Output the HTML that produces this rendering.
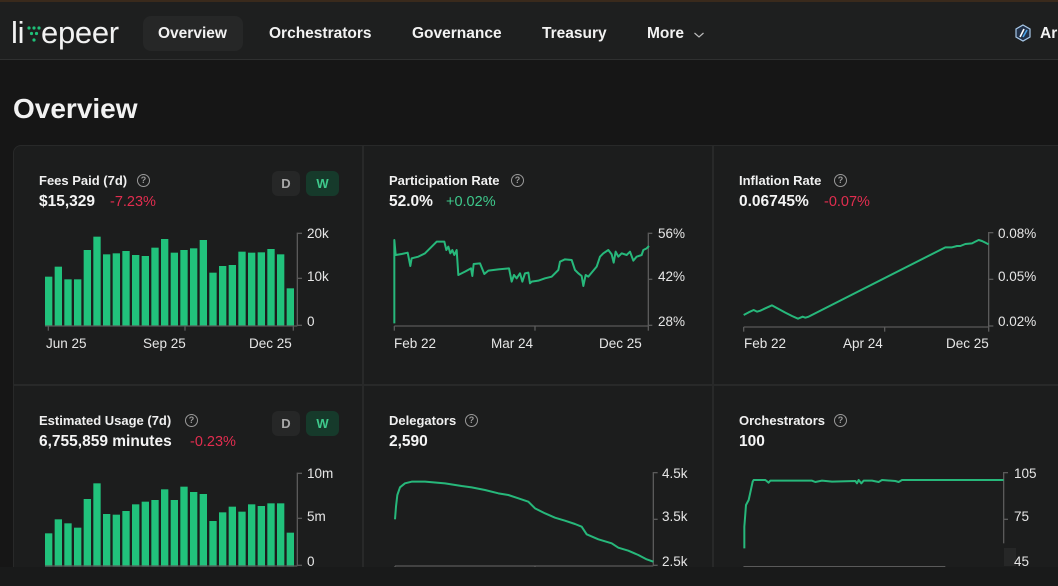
<!DOCTYPE html>
<html><head><meta charset="utf-8">
<style>
html,body{margin:0;padding:0;width:1058px;height:586px;overflow:hidden;background:#161616;font-family:"Liberation Sans",sans-serif;color:#ededed;}
.a{position:absolute;white-space:nowrap;}
.hdr{position:absolute;left:0;top:0;width:1058px;height:60px;background:#1e1f1f;border-top:2px solid #3a2a1c;box-sizing:border-box;border-bottom:1px solid #2f3030;}
.nav{font-weight:bold;font-size:15.5px;color:#f2f2f2;line-height:20px;top:24px;}
.pill{position:absolute;left:143px;top:16px;width:100px;height:35px;background:#262727;border-radius:8px;}
.card{position:absolute;background:#1c1d1d;}
.t{font-weight:bold;font-size:13px;line-height:16px;color:#f0f0f0;}
.v{font-weight:bold;font-size:15.5px;line-height:18px;color:#f4f4f4;}
.red{font-size:14.5px;line-height:18px;color:#e12d4f;}
.grn{font-size:14.5px;line-height:18px;color:#3ec98c;}
.q{position:absolute;width:11px;height:11px;border:1.3px solid #9a9a9a;border-radius:50%;font-size:9px;line-height:11px;text-align:center;color:#9a9a9a;font-weight:bold;}
.btn{position:absolute;height:25px;border-radius:6px;font-weight:bold;font-size:13px;line-height:25px;text-align:center;}
.lbl{font-size:13.5px;fill:#e6e6e6;font-family:"Liberation Sans",sans-serif;}
</style></head><body>

<div class="hdr"></div>
<!-- logo -->
<div class="a" style="left:11px;top:15px;font-size:31px;line-height:36px;color:#f2f2f2;letter-spacing:-0.3px;">li</div>
<svg class="a" style="left:27px;top:23px" width="14" height="22">
<g fill="#1fbf78"><circle cx="2" cy="5" r="1.6"/><circle cx="7" cy="5" r="1.6"/><circle cx="12" cy="5" r="1.6"/><circle cx="4.5" cy="10.5" r="1.6"/><circle cx="9.5" cy="10.5" r="1.6"/><circle cx="7" cy="17" r="1.6"/></g></svg>
<div class="a" style="left:41px;top:15px;font-size:31px;line-height:36px;color:#f2f2f2;letter-spacing:-0.3px;">epeer</div>

<div class="pill"></div>
<div class="a nav" style="left:158px;">Overview</div>
<div class="a nav" style="left:269px;">Orchestrators</div>
<div class="a nav" style="left:412px;">Governance</div>
<div class="a nav" style="left:542px;">Treasury</div>
<div class="a nav" style="left:647px;">More</div>
<svg class="a" style="left:693px;top:30px" width="12" height="10"><polyline points="1.5,3 6,7 10.5,3" fill="none" stroke="#bbb" stroke-width="1.2"/></svg>
<svg class="a" style="left:1014px;top:24px" width="18" height="18"><polygon points="9,1 16,5 16,13 9,17 2,13 2,5" fill="#22324a" stroke="#a8c8e8" stroke-width="1.2"/><line x1="6" y1="13" x2="10" y2="5" stroke="#fff" stroke-width="1.6"/><line x1="9" y1="13" x2="13" y2="6" stroke="#4aa3ea" stroke-width="1.6"/></svg>
<div class="a nav" style="left:1040px;">Arbitrum</div>

<div class="a" style="left:13px;top:93px;font-size:28px;font-weight:bold;line-height:32px;color:#f2f2f2;">Overview</div>

<!-- cards grid -->
<div class="a" style="left:13px;top:145px;width:1045px;height:430px;background:#282929;border-top-left-radius:8px;"></div>
<div class="card" style="left:14px;top:146px;width:348px;height:238px;border-top-left-radius:7px;"></div>
<div class="card" style="left:364px;top:146px;width:348px;height:238px;"></div>
<div class="card" style="left:714px;top:146px;width:344px;height:238px;"></div>
<div class="card" style="left:14px;top:386px;width:348px;height:200px;"></div>
<div class="card" style="left:364px;top:386px;width:348px;height:200px;"></div>
<div class="card" style="left:714px;top:386px;width:344px;height:200px;"></div>

<!-- card texts row1 -->
<div class="a t" style="left:39px;top:173px;">Fees Paid (7d)</div><div class="q" style="left:137px;top:174px;">?</div>
<div class="a v" style="left:39px;top:193px;">$15,329</div><div class="a red" style="left:110px;top:193px;">-7.23%</div>
<div class="btn" style="left:272px;top:171px;width:28px;background:#262727;color:#a8a8a8;">D</div>
<div class="btn" style="left:306px;top:171px;width:33px;background:#163a2b;color:#3ec98c;">W</div>

<div class="a t" style="left:389px;top:173px;">Participation Rate</div><div class="q" style="left:511px;top:174px;">?</div>
<div class="a v" style="left:389px;top:193px;">52.0%</div><div class="a grn" style="left:446px;top:193px;">+0.02%</div>

<div class="a t" style="left:739px;top:173px;">Inflation Rate</div><div class="q" style="left:834px;top:174px;">?</div>
<div class="a v" style="left:739px;top:193px;">0.06745%</div><div class="a red" style="left:824px;top:193px;">-0.07%</div>

<!-- row2 -->
<div class="a t" style="left:39px;top:413px;">Estimated Usage (7d)</div><div class="q" style="left:185px;top:414px;">?</div>
<div class="a v" style="left:39px;top:433px;">6,755,859 minutes</div><div class="a red" style="left:190px;top:433px;">-0.23%</div>
<div class="btn" style="left:272px;top:411px;width:28px;background:#262727;color:#a8a8a8;">D</div>
<div class="btn" style="left:306px;top:411px;width:33px;background:#163a2b;color:#3ec98c;">W</div>

<div class="a t" style="left:389px;top:413px;">Delegators</div><div class="q" style="left:465px;top:414px;">?</div>
<div class="a v" style="left:389px;top:433px;">2,590</div>

<div class="a t" style="left:739px;top:413px;">Orchestrators</div><div class="q" style="left:834px;top:414px;">?</div>
<div class="a v" style="left:739px;top:433px;">100</div>

<svg class="a" style="left:0;top:0" width="1058" height="586">
<!-- chart 1 bars -->
<g transform="translate(10,140) scale(0.33333)">
<g fill="#21c27c">
<rect x="105" y="410" width="22" height="147"/><rect x="134" y="380" width="22" height="177"/><rect x="163" y="418" width="22" height="139"/><rect x="192" y="418" width="22" height="139"/><rect x="221" y="330" width="22" height="227"/><rect x="250" y="290" width="22" height="267"/><rect x="279" y="343" width="22" height="214"/><rect x="308" y="340" width="22" height="217"/><rect x="337" y="333" width="22" height="224"/><rect x="366" y="345" width="22" height="212"/><rect x="395" y="348" width="22" height="209"/><rect x="424" y="323" width="22" height="234"/><rect x="453" y="297" width="22" height="260"/><rect x="482" y="338" width="22" height="219"/><rect x="511" y="330" width="22" height="227"/><rect x="540" y="325" width="22" height="232"/><rect x="569" y="300" width="22" height="257"/><rect x="598" y="398" width="22" height="159"/><rect x="627" y="378" width="22" height="179"/><rect x="656" y="375" width="22" height="182"/><rect x="685" y="335" width="22" height="222"/><rect x="714" y="338" width="22" height="219"/><rect x="743" y="337" width="22" height="220"/><rect x="772" y="327" width="22" height="230"/><rect x="801" y="343" width="22" height="214"/><rect x="830" y="445" width="22" height="112"/>
</g>
<g stroke="#5a5a5a" stroke-width="4" fill="none"><line x1="862" y1="278" x2="862" y2="558"/><line x1="862" y1="280" x2="876" y2="280"/><line x1="862" y1="415" x2="876" y2="415"/><line x1="862" y1="556" x2="876" y2="556"/><line x1="105" y1="558" x2="862" y2="558"/><line x1="115" y1="558" x2="115" y2="572"/><line x1="525" y1="558" x2="525" y2="572"/><line x1="850" y1="558" x2="850" y2="572"/></g>
</g>
<text class="lbl" x="307" y="238">20k</text><text class="lbl" x="307" y="281">10k</text><text class="lbl" x="307" y="326">0</text>
<text class="lbl" x="46" y="348">Jun 25</text><text class="lbl" x="143" y="348">Sep 25</text><text class="lbl" x="249" y="348">Dec 25</text>

<!-- chart 2 participation -->
<g transform="translate(365,140) scale(0.33333)">
<g stroke="#5a5a5a" stroke-width="4" fill="none"><line x1="850" y1="278" x2="850" y2="558"/><line x1="850" y1="280" x2="862" y2="280"/><line x1="850" y1="418" x2="862" y2="418"/><line x1="850" y1="556" x2="862" y2="556"/><line x1="88" y1="558" x2="850" y2="558"/><line x1="88" y1="558" x2="88" y2="572"/><line x1="510" y1="558" x2="510" y2="572"/><line x1="850" y1="558" x2="850" y2="572"/></g>
<polyline fill="none" stroke="#27b87b" stroke-width="6" stroke-linejoin="round" points="88,550 88,300 92,345 110,342 128,338 132,358 136,378 140,355 160,350 180,340 200,320 215,305 238,305 244,330 250,320 256,340 262,330 268,345 275,330 280,405 300,395 318,385 322,408 326,372 345,370 358,402 370,392 400,388 432,385 440,425 447,405 455,415 465,400 472,425 480,400 490,398 495,430 500,425 520,422 540,415 560,410 580,390 585,365 600,358 620,360 630,390 640,400 650,408 655,438 662,405 670,410 680,398 695,380 705,350 715,340 730,330 740,343 746,368 752,335 760,350 770,340 785,345 795,335 805,362 815,350 830,345 835,330 845,325 852,318"/>
</g>
<text class="lbl" x="658" y="238">56%</text><text class="lbl" x="658" y="281">42%</text><text class="lbl" x="658" y="326">28%</text>
<text class="lbl" x="394" y="348">Feb 22</text><text class="lbl" x="491" y="348">Mar 24</text><text class="lbl" x="599" y="348">Dec 25</text>

<!-- chart 3 inflation -->
<g transform="translate(712,140) scale(0.33333)">
<g stroke="#5a5a5a" stroke-width="4" fill="none"><line x1="830" y1="276" x2="830" y2="561"/><line x1="830" y1="278" x2="844" y2="278"/><line x1="830" y1="418" x2="844" y2="418"/><line x1="830" y1="558" x2="844" y2="558"/><line x1="95" y1="561" x2="830" y2="561"/><line x1="95" y1="561" x2="95" y2="575"/><line x1="518" y1="561" x2="518" y2="575"/><line x1="830" y1="561" x2="830" y2="575"/></g>
<polyline fill="none" stroke="#27b87b" stroke-width="6" stroke-linejoin="round" points="95,525 110,517 125,510 135,515 145,512 160,505 180,496 200,507 220,518 240,528 258,536 265,533 272,530 280,533 290,530 700,322 720,322 735,318 745,318 760,312 780,310 790,305 800,300 810,303 820,308 830,313"/>
</g>
<text class="lbl" x="998" y="238">0.08%</text><text class="lbl" x="998" y="281">0.05%</text><text class="lbl" x="998" y="326">0.02%</text>
<text class="lbl" x="744" y="348">Feb 22</text><text class="lbl" x="843" y="348">Apr 24</text><text class="lbl" x="946" y="348">Dec 25</text>

<!-- chart 4 usage bars -->
<g transform="translate(10,380) scale(0.33333)">
<g fill="#21c27c">
<rect x="105" y="460" width="22" height="100"/><rect x="134" y="418" width="22" height="142"/><rect x="163" y="430" width="22" height="130"/><rect x="192" y="443" width="22" height="117"/><rect x="221" y="357" width="22" height="203"/><rect x="250" y="310" width="22" height="250"/><rect x="279" y="402" width="22" height="158"/><rect x="308" y="404" width="22" height="156"/><rect x="337" y="393" width="22" height="167"/><rect x="366" y="373" width="22" height="187"/><rect x="395" y="365" width="22" height="195"/><rect x="424" y="360" width="22" height="200"/><rect x="453" y="328" width="22" height="232"/><rect x="482" y="360" width="22" height="200"/><rect x="511" y="320" width="22" height="240"/><rect x="540" y="336" width="22" height="224"/><rect x="569" y="342" width="22" height="218"/><rect x="598" y="423" width="22" height="137"/><rect x="627" y="397" width="22" height="163"/><rect x="656" y="380" width="22" height="180"/><rect x="685" y="395" width="22" height="165"/><rect x="714" y="373" width="22" height="187"/><rect x="743" y="378" width="22" height="182"/><rect x="772" y="370" width="22" height="190"/><rect x="801" y="370" width="22" height="190"/><rect x="830" y="458" width="22" height="102"/>
</g>
<g stroke="#5a5a5a" stroke-width="4" fill="none"><line x1="862" y1="278" x2="862" y2="558"/><line x1="862" y1="280" x2="876" y2="280"/><line x1="862" y1="415" x2="876" y2="415"/><line x1="862" y1="556" x2="876" y2="556"/><line x1="105" y1="558" x2="862" y2="558"/></g>
</g>
<text class="lbl" x="307" y="478">10m</text><text class="lbl" x="307" y="521">5m</text><text class="lbl" x="307" y="566">0</text>

<!-- chart 5 delegators -->
<g transform="translate(365,380) scale(0.33333)">
<g stroke="#5a5a5a" stroke-width="4" fill="none"><line x1="865" y1="276" x2="865" y2="558"/><line x1="865" y1="278" x2="878" y2="278"/><line x1="865" y1="418" x2="878" y2="418"/><line x1="865" y1="556" x2="878" y2="556"/><line x1="90" y1="558" x2="865" y2="558"/><line x1="90" y1="558" x2="90" y2="572"/><line x1="510" y1="558" x2="510" y2="572"/></g>
<polyline fill="none" stroke="#27b87b" stroke-width="6" stroke-linejoin="round" points="90,418 93,380 97,345 105,322 120,310 140,305 180,305 240,310 290,318 320,322 360,330 400,340 430,345 460,355 490,365 510,385 540,400 570,413 600,422 630,432 650,440 665,463 700,478 740,490 760,503 790,512 820,525 845,538 865,545"/>
</g>
<text class="lbl" x="662" y="478">4.5k</text><text class="lbl" x="662" y="521">3.5k</text><text class="lbl" x="662" y="566">2.5k</text>

<!-- chart 6 orchestrators -->
<g transform="translate(712,380) scale(0.33333)">
<g stroke="#5a5a5a" stroke-width="4" fill="none"><line x1="875" y1="276" x2="875" y2="490"/><line x1="875" y1="278" x2="888" y2="278"/><line x1="875" y1="418" x2="888" y2="418"/><line x1="95" y1="560" x2="700" y2="560"/><line x1="95" y1="560" x2="95" y2="572"/><line x1="518" y1="560" x2="518" y2="572"/></g>
<polyline fill="none" stroke="#27b87b" stroke-width="6" stroke-linejoin="round" points="97,505 97,440 102,375 110,360 122,305 125,300 160,300 170,308 175,302 300,302 310,306 330,302 360,305 430,303 435,310 440,300 448,310 455,302 480,302 500,306 510,300 550,303 560,306 570,300 875,300"/>
</g>
<rect x="1004" y="548" width="12" height="18" fill="#262727"/>
<text class="lbl" x="1014" y="478">105</text><text class="lbl" x="1014" y="521">75</text><text class="lbl" x="1014" y="566">45</text>

<!-- bottom band -->
<rect x="0" y="567" width="1058" height="19" fill="#191a1a"/>
</svg>
</body></html>
